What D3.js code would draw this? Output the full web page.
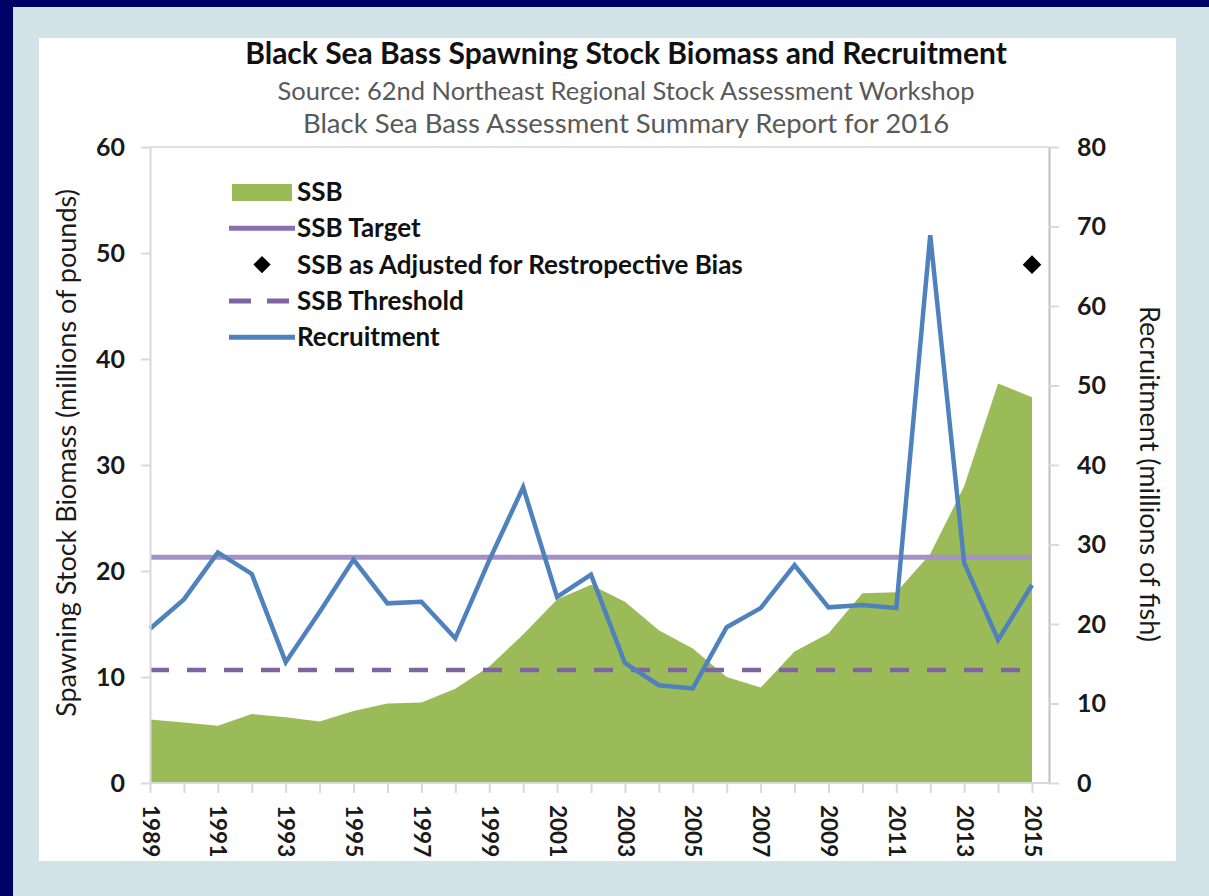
<!DOCTYPE html>
<meta charset="utf-8">
<style>
  html, body { margin: 0; padding: 0; background: #d2e4e7; }
  text { font-family: Lato, "Open Sans", sans-serif; }
</style>
<svg id="mainsvg" width="1209" height="896"></svg>
<script src="https://cdn.jsdelivr.net/npm/d3@7"></script>
<script>

// data
const years = [1989, 1990, 1991, 1992, 1993, 1994, 1995, 1996, 1997, 1998, 1999, 2000, 2001, 2002,
               2003, 2004, 2005, 2006, 2007, 2008, 2009, 2010, 2011, 2012, 2013, 2014, 2015];
const ssb = [6.0, 5.7, 5.4, 6.5, 6.2, 5.8, 6.8, 7.5, 7.6, 8.9, 11.0, 14.0, 17.3, 18.7,
             17.1, 14.4, 12.7, 10.0, 9.0, 12.4, 14.1, 17.9, 18.0, 21.6, 28.0, 37.7, 36.4];
const recruitment = [19.4, 23.1, 29.0, 26.3, 15.2, 21.5, 28.1, 22.6, 22.8, 18.2, 28.0, 37.2, 23.4, 26.2,
                     15.1, 12.3, 11.9, 19.6, 22.0, 27.4, 22.1, 22.4, 22.0, 68.9, 27.7, 18.0, 24.9];
const ssbTarget = 21.3;
const ssbThreshold = 10.65;
const ssbAdjusted = [{ year: 2015, value: 48.9 }];

const leftTicks = [0, 10, 20, 30, 40, 50, 60];
const rightTicks = [0, 10, 20, 30, 40, 50, 60, 70, 80];
const legendItems = ["SSB", "SSB Target", "SSB as Adjusted for Restropective Bias", "SSB Threshold", "Recruitment"];

const titleText = "Black Sea Bass Spawning Stock Biomass and Recruitment";
const subtitles = ["Source: 62nd Northeast Regional Stock Assessment Workshop",
                   "Black Sea Bass Assessment Summary Report for 2016"];

// colours
const green = "#9bbb59", blue = "#4f81bd", purple = "#8064a2";

const svg = d3.select("#mainsvg");

// frame
svg.append("rect").attr("width", 1209).attr("height", 896).attr("fill", "#000066");
svg.append("rect").attr("x", 13).attr("y", 7).attr("width", 1196).attr("height", 889).attr("fill", "#d2e4e7");
svg.append("rect").attr("x", 39).attr("y", 38).attr("width", 1137).attr("height", 823).attr("fill", "#fff");

// plot geometry
const pLeft = 150, pRight = 1049, pTop = 147, pBottom = 783, lastX = 1032;

const x = d3.scalePoint().domain(years).range([pLeft, lastX]);
const y = d3.scaleLinear().domain([0, 60]).range([pBottom, pTop]);
const y2 = d3.scaleLinear().domain([0, 80]).range([pBottom, pTop]);

// titles
svg.append("text")
  .attr("x", 626).attr("y", 64)
  .attr("text-anchor", "middle")
  .style("font-size", "30px").style("font-weight", "bold").style("fill", "#111")
  .text(titleText);

svg.selectAll(".sub")
  .data(subtitles)
  .enter().append("text")
  .attr("class", "sub")
  .attr("x", 626)
  .attr("y", (d, i) => 100 + i * 33)
  .attr("text-anchor", "middle")
  .style("font-size", (d, i) => i === 0 ? "25.5px" : "27.5px")
  .style("fill", "#595959")
  .text(d => d);

// top border of plot
svg.append("line")
  .attr("x1", pLeft).attr("x2", pRight).attr("y1", pTop).attr("y2", pTop)
  .attr("stroke", "#e0e0e0").attr("stroke-width", 2);

// SSB area
const area = d3.area()
  .x((d, i) => x(years[i]))
  .y0(y(0))
  .y1(d => y(d));

svg.append("path")
  .datum(ssb)
  .attr("fill", green)
  .attr("d", area);

// target and threshold
svg.append("line")
  .attr("x1", x(years[0])).attr("x2", x(years[years.length - 1]))
  .attr("y1", y(ssbTarget)).attr("y2", y(ssbTarget))
  .attr("stroke", "#a591c6").attr("stroke-width", 5);

svg.append("line")
  .attr("x1", x(years[0])).attr("x2", x(years[years.length - 1]))
  .attr("y1", y(ssbThreshold)).attr("y2", y(ssbThreshold))
  .attr("stroke", purple).attr("stroke-width", 4.5)
  .attr("stroke-dasharray", "19 18");

// recruitment line
const line = d3.line()
  .x((d, i) => x(years[i]))
  .y(d => y2(d));

svg.append("path")
  .datum(recruitment)
  .attr("fill", "none")
  .attr("stroke", blue)
  .attr("stroke-width", 4.5)
  .attr("stroke-linejoin", "miter")
  .attr("d", line);

// adjusted SSB marker
const diamond = d3.symbol().type(d3.symbolDiamond2).size(220);
svg.selectAll(".adj")
  .data(ssbAdjusted)
  .enter().append("path")
  .attr("class", "adj")
  .attr("transform", d => `translate(${x(d.year)},${y(d.value)})`)
  .attr("d", diamond)
  .attr("fill", "#000");

// axes
const tickStyle = (g, col, size) => {
  g.selectAll(".tick line").attr("stroke", col).attr("stroke-width", 2);
  g.selectAll(".tick text")
    .style("font-size", size).style("font-weight", "bold")
    .style("font-family", "Lato, 'Open Sans', sans-serif")
    .attr("fill", "#1a1a1a");
};

const yAxis = svg.append("g")
  .attr("transform", `translate(${pLeft},0)`)
  .call(d3.axisLeft(y).tickValues(leftTicks).tickSize(9).tickSizeOuter(0).tickPadding(16));
yAxis.select(".domain").attr("stroke", "#d9d9d9").attr("stroke-width", 2);
tickStyle(yAxis, "#d9d9d9", "25px");

const y2Axis = svg.append("g")
  .attr("transform", `translate(${pRight},0)`)
  .call(d3.axisRight(y2).tickValues(rightTicks).tickSize(10).tickSizeOuter(0).tickPadding(18));
y2Axis.select(".domain").attr("stroke", "#bfbfbf").attr("stroke-width", 2);
tickStyle(y2Axis, "#d9d9d9", "25px");

const xAxis = svg.append("g")
  .attr("transform", `translate(0,${pBottom})`)
  .call(d3.axisBottom(x).tickSize(10).tickSizeOuter(0)
    .tickFormat((d, i) => i % 2 === 0 ? d : ""));
xAxis.select(".domain").remove();
tickStyle(xAxis, "#d9d9d9", "22.5px");
xAxis.selectAll(".tick text")
  .attr("y", 0).attr("dy", "0.35em")
  .attr("text-anchor", "start")
  .attr("transform", "translate(0,22) rotate(90)");

svg.append("line")
  .attr("x1", pLeft).attr("x2", pRight).attr("y1", pBottom).attr("y2", pBottom)
  .attr("stroke", "#d9d9d9").attr("stroke-width", 2);

// axis titles
svg.append("text")
  .attr("transform", "translate(67,453) rotate(-90)")
  .attr("dy", "0.35em")
  .attr("text-anchor", "middle")
  .style("font-size", "27px").style("fill", "#1a1a1a")
  .text("Spawning Stock Biomass (millions of pounds)");

svg.append("text")
  .attr("transform", "translate(1149,474) rotate(90)")
  .attr("dy", "0.35em")
  .attr("text-anchor", "middle")
  .style("font-size", "27px").style("fill", "#1a1a1a")
  .text("Recruitment (millions of fish)");

// legend
const legend = svg.append("g").attr("transform", "translate(229,192)");
const item = legend.selectAll("g")
  .data(legendItems)
  .enter().append("g")
  .attr("transform", (d, i) => `translate(0,${i * 36.3})`);

item.append("text")
  .attr("x", 68).attr("dy", "0.35em")
  .style("font-size", "26px").style("font-weight", "bold").style("fill", "#111")
  .text(d => d);

item.each(function(d, i) {
  const g = d3.select(this);
  if (i === 0) {
    g.append("rect").attr("x", 3).attr("y", -8).attr("width", 60).attr("height", 17).attr("fill", green);
  } else if (i === 1) {
    g.append("line").attr("x1", 0).attr("x2", 66).attr("stroke", "#8a6fb0").attr("stroke-width", 5);
  } else if (i === 2) {
    g.append("path").attr("transform", "translate(33,0)")
      .attr("d", d3.symbol().type(d3.symbolDiamond2).size(190)).attr("fill", "#000");
  } else if (i === 3) {
    g.append("line").attr("x1", 0).attr("x2", 66).attr("stroke", purple).attr("stroke-width", 5)
      .attr("stroke-dasharray", "22 16");
  } else {
    g.append("line").attr("x1", 0).attr("x2", 66).attr("stroke", blue).attr("stroke-width", 5);
  }
});

</script>
